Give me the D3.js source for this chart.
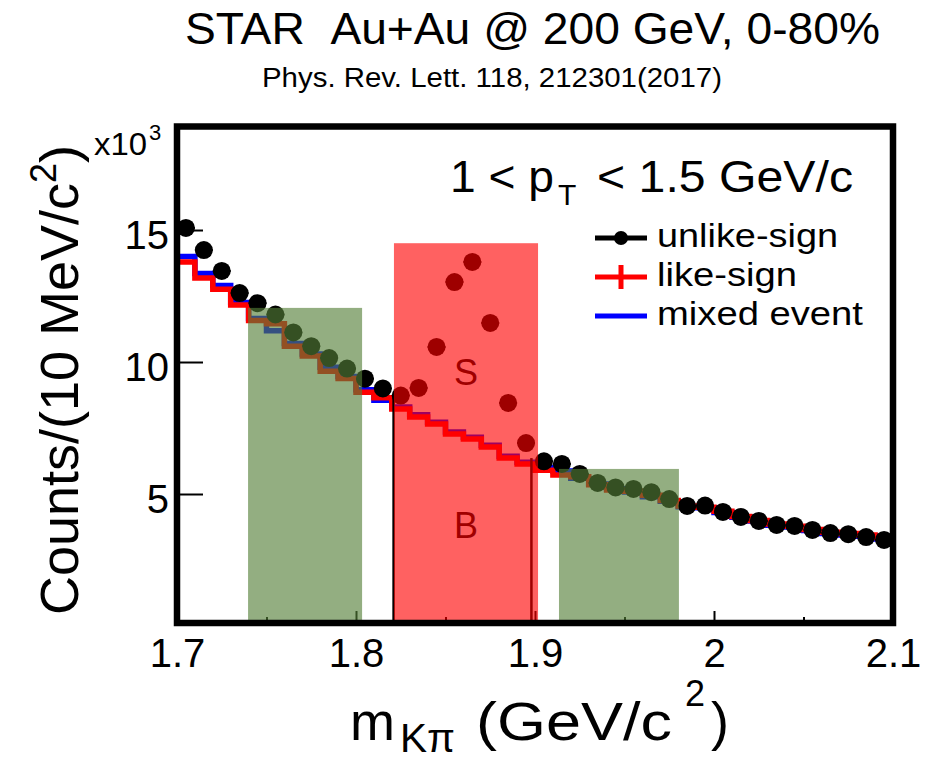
<!DOCTYPE html>
<html><head><meta charset="utf-8">
<script src="https://cdn.jsdelivr.net/npm/d3@7"></script>
<style>
body{margin:0;background:#fff}
svg{display:block}
text{font-family:"Liberation Sans",Arial,Helvetica,sans-serif;fill:#000;white-space:pre}
</style>
</head><body>
<svg id="c" width="930" height="759"></svg>
<script>
// ---- data (units: GeV/c^2 and x10^3 counts) ----
const massBins = [1.705,1.715,1.725,1.735,1.745,1.755,1.765,1.775,1.785,1.795,
                  1.805,1.815,1.825,1.835,1.845,1.855,1.865,1.875,1.885,1.895,
                  1.905,1.915,1.925,1.935,1.945,1.955,1.965,1.975,1.985,1.995,
                  2.005,2.015,2.025,2.035,2.045,2.055,2.065,2.075,2.085,2.095];
const binWidth = 0.01;
const unlikeSign = [15.08,14.24,13.45,12.61,12.23,11.80,11.12,10.60,10.15,9.75,
                    9.37,9.00,8.73,9.02,10.57,13.03,13.79,11.48,8.45,6.93,
                    6.24,6.14,5.76,5.42,5.25,5.19,5.07,4.81,4.55,4.56,
                    4.32,4.13,3.98,3.83,3.79,3.64,3.52,3.48,3.37,3.26];
const likeSign   = [13.79,13.18,12.76,12.16,11.57,11.45,10.60,10.23,9.65,9.38,
                    8.85,8.65,8.22,7.92,7.65,7.27,7.08,6.78,6.36,6.14,
                    5.90,5.72,5.65,5.35,5.15,5.10,4.95,4.75,4.55,4.50,
                    4.35,4.15,4.00,3.86,3.78,3.66,3.55,3.50,3.45,3.35];
const mixedEvent = [14.00,13.35,12.90,12.25,11.65,11.18,10.70,10.30,9.80,9.45,
                    8.95,8.55,8.30,8.00,7.72,7.35,7.15,6.85,6.43,6.20,
                    6.00,5.87,5.60,5.38,5.20,5.08,4.90,4.73,4.52,4.48,
                    4.30,4.12,3.98,3.82,3.75,3.62,3.50,3.45,3.40,3.30];
const xTicks = [1.7,1.8,1.9,2.0,2.1];
const xTickLabels = ["1.7","1.8","1.9","2","2.1"];
const xMinorTicks = [1.75,1.85,1.95,2.05];
const yTicks = [5,10,15];
const yTickLabels = ["5","10","15"];
// regions: [mass low, mass high, height]
const sidebandLeft  = [1.7397, 1.8034, 12.05];
const signalRegion  = [1.8212, 1.9017, 14.5];
const sidebandRight = [1.9134, 1.9804, 5.95];
// integration window edges: [mass, height]
const windowEdges = [[1.821, 8.71, "#000"], [1.898, 6.36, "#000"]];
const legendNames = ["unlike-sign","like-sign","mixed event"];

// ---- layout ----
const svg = d3.select("#c");
const x = d3.scaleLinear().domain([1.7, 2.1]).range([177, 893]);
const y = d3.scaleLinear().domain([0, 18.94]).range([626, 126]);

svg.append("defs").append("clipPath").attr("id","clip")
  .append("rect").attr("x",177).attr("y",126).attr("width",716).attr("height",497);

// ticks
const gx = svg.append("g").attr("transform","translate(0,623)")
  .call(d3.axisBottom(x).tickValues(xTicks).tickSize(-12).tickPadding(16)
        .tickFormat((d,i)=>xTickLabels[i]));
gx.select(".domain").remove();
gx.selectAll("line").attr("stroke","#000").attr("stroke-width",2);
gx.selectAll("text").attr("font-size",40).attr("fill","#000")
  .style("font-family","'Liberation Sans',Arial,sans-serif");
const gxm = svg.append("g").attr("transform","translate(0,623)")
  .call(d3.axisBottom(x).tickValues(xMinorTicks).tickSize(-6).tickFormat(""));
gxm.select(".domain").remove();
gxm.selectAll("line").attr("stroke","#000").attr("stroke-width",2);

const gy = svg.append("g").attr("transform","translate(177,0)")
  .call(d3.axisLeft(y).tickValues(yTicks).tickSize(-26).tickPadding(8)
        .tickFormat((d,i)=>yTickLabels[i]));
gy.select(".domain").remove();
gy.selectAll("line").attr("stroke","#000").attr("stroke-width",2);
gy.selectAll("text").attr("font-size",40).attr("dy","0.45em").attr("fill","#000")
  .style("font-family","'Liberation Sans',Arial,sans-serif");

const plot = svg.append("g").attr("clip-path","url(#clip)");

// step histograms
function stepData(vals){
  const pts = massBins.map((c,i)=>[c - binWidth/2, vals[i]]);
  pts.push([massBins[massBins.length-1] + binWidth/2, vals[vals.length-1]]);
  return pts;
}
const stepLine = d3.line().x(d=>x(d[0])).y(d=>y(d[1])).curve(d3.curveStepAfter);
plot.append("path").attr("d", stepLine(stepData(mixedEvent)))
  .attr("fill","none").attr("stroke","#0000ff").attr("stroke-width",5.5);
plot.append("path").attr("d", stepLine(stepData(likeSign)))
  .attr("fill","none").attr("stroke","#ff0000").attr("stroke-width",5.5);

// unlike-sign points with x error bars
plot.selectAll("line.err").data(massBins).join("line").attr("class","err")
  .attr("x1",(d)=>x(d-binWidth/2)).attr("x2",(d)=>x(d+binWidth/2))
  .attr("y1",(d,i)=>y(unlikeSign[i])).attr("y2",(d,i)=>y(unlikeSign[i]))
  .attr("stroke","#000").attr("stroke-width",2);
plot.selectAll("circle.pt").data(massBins).join("circle").attr("class","pt")
  .attr("cx",d=>x(d)).attr("cy",(d,i)=>y(unlikeSign[i])).attr("r",9).attr("fill","#000");

// window edges
plot.selectAll("line.edge").data(windowEdges).join("line").attr("class","edge")
  .attr("x1",d=>x(d[0])).attr("x2",d=>x(d[0])).attr("y1",y(0)).attr("y2",d=>y(d[1]))
  .attr("stroke",d=>d[2]).attr("stroke-width",2.5);

// shaded regions
function region(r, color){
  plot.append("rect").attr("x",x(r[0])).attr("width",x(r[1])-x(r[0]))
    .attr("y",y(r[2])).attr("height",y(0)-y(r[2])).attr("fill",color);
}
region(sidebandLeft, "rgba(84,127,56,0.63)");
region(sidebandRight, "rgba(84,127,56,0.63)");
region(signalRegion, "rgba(255,0,0,0.62)");

const midS = (signalRegion[0]+signalRegion[1])/2;
svg.append("text").attr("x",x(midS)).attr("y",385).attr("text-anchor","middle")
  .attr("font-size",36).style("fill","#a00000").text("S");
svg.append("text").attr("x",x(midS)).attr("y",538).attr("text-anchor","middle")
  .attr("font-size",36).style("fill","#a00000").text("B");

// frame
svg.append("rect").attr("x",177).attr("y",126.5).attr("width",716).attr("height",496.5)
  .attr("fill","none").attr("stroke","#000").attr("stroke-width",6.5);

// texts
function txt(xp, yp, s, size, len){
  const t = svg.append("text").attr("x",xp).attr("y",yp).attr("font-size",size).text(s);
  if(len){ t.attr("textLength",len).attr("lengthAdjust","spacingAndGlyphs"); }
  return t;
}
txt(185, 44, "STAR\u00A0\u00A0Au+Au @ 200 GeV, 0-80%", 45, 695);
txt(262, 87, "Phys. Rev. Lett. 118, 212301(2017)", 27, 460);

txt(450, 192, "1 < p", 44, 104);
txt(558, 205, "T", 30);
txt(597, 192, "< 1.5 GeV/c", 44, 256);

txt(94, 155, "x10", 32, 53);
txt(149, 140, "3", 22);

// legend
const legY = [238, 277, 316];
svg.append("line").attr("x1",595).attr("x2",647).attr("y1",legY[0]).attr("y2",legY[0])
  .attr("stroke","#000").attr("stroke-width",5);
svg.append("circle").attr("cx",621).attr("cy",legY[0]).attr("r",7).attr("fill","#000");
svg.append("line").attr("x1",595).attr("x2",647).attr("y1",legY[1]).attr("y2",legY[1])
  .attr("stroke","#ff0000").attr("stroke-width",5);
svg.append("line").attr("x1",621).attr("x2",621).attr("y1",legY[1]-12).attr("y2",legY[1]+12)
  .attr("stroke","#ff0000").attr("stroke-width",5);
svg.append("line").attr("x1",595).attr("x2",647).attr("y1",legY[2]).attr("y2",legY[2])
  .attr("stroke","#0000ff").attr("stroke-width",5);
const legLen = [181, 140, 206];
legendNames.forEach((n,i)=> txt(657, legY[i]+9, n, 33, legLen[i]));

// axis titles
txt(350, 740, "m", 54);
txt(400, 752, "Kπ", 40, 55);
txt(476, 740, "(GeV/c", 54, 196);
txt(685, 706, "2", 36);
txt(711, 740, ")", 54);

const yt = svg.append("text").attr("transform","translate(78,380) rotate(-90)")
  .attr("text-anchor","middle").attr("font-size",54);
yt.append("tspan").text("Counts/(10 MeV/c");
yt.append("tspan").attr("font-size",36).attr("dy",-22).text("2");
yt.append("tspan").attr("dy",22).text(")");
</script>
</body></html>
